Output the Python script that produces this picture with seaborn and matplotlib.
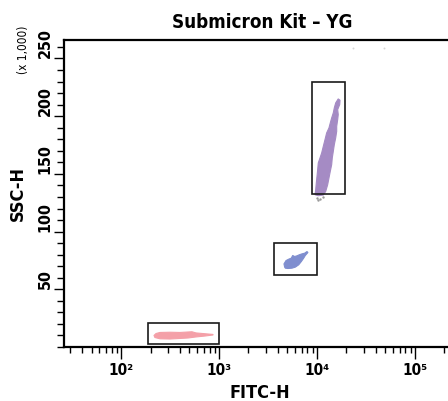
import numpy as np
import pandas as pd
import matplotlib
matplotlib.use("Agg")
import matplotlib.pyplot as plt
from matplotlib.patches import Rectangle
from matplotlib.ticker import FixedLocator, MultipleLocator, NullFormatter
import seaborn as sns

# ---------------- data ----------------
title = "Submicron Kit – YG"
x_label = "FITC-H"
y_label = "SSC-H"
y_unit = "(x 1,000)"

x_ticks = [1e2, 1e3, 1e4, 1e5]
x_tick_labels = ["10²", "10³", "10⁴", "10⁵"]
y_ticks = [50, 100, 150, 200, 250]
y_tick_labels = ["50", "100", "150", "200", "250"]

# population outlines (FITC-H, SSC-H x1000)
pink_x = [217, 228, 250, 316, 400, 483, 530, 582, 719, 869,
          869, 719, 582, 483, 400, 316, 250, 222]
pink_y = [10.0, 11.7, 12.6, 12.8, 12.6, 13.0, 13.2, 12.2, 11.5, 10.9,
          10.4, 9.5, 8.7, 7.8, 7.4, 6.9, 7.1, 8.2]

blue_x = [4677, 4603, 4830, 5143, 5466, 5650, 5918, 6247, 6596, 7025, 7484,
          7901, 8088, 7600, 7317, 6915, 6506, 6012, 5559, 5057, 4755]
blue_y = [69.2, 72.0, 74.9, 76.1, 77.0, 79.3, 78.4, 79.0, 79.9, 80.7, 81.3,
          82.7, 81.9, 79.3, 77.0, 74.0, 71.2, 69.2, 68.3, 68.0, 68.3]

purple_x = [16480, 15520, 15020, 14670, 14120, 13670, 13250, 12550, 12070,
            11600, 11160, 10730, 10310, 10160, 10000, 9840, 9700, 9550,
            10310, 11600, 12270, 12850, 13250, 13670, 14120, 14320, 14670,
            15020, 15520, 15890, 15890, 16260, 16480, 16260, 17060, 17180]
purple_y = [215.0, 211.5, 207.2, 202.9, 198.5, 194.2, 189.8, 185.5, 179.7,
            173.9, 168.1, 163.8, 159.5, 153.6, 147.8, 142.1, 136.3, 131.9,
            131.1, 131.7, 134.8, 140.6, 146.4, 152.2, 158.0, 163.8, 169.5,
            175.3, 181.2, 186.9, 191.2, 197.0, 201.4, 205.7, 210.1, 213.8]

# stray events
stray_x = [9900, 10700, 11500, 10300]
stray_y = [129.5, 128.3, 129.8, 127.6]
faint_x = [23440, 48640]
faint_y = [259.3, 259.3]

# gates
gate_x0 = [190, 3614, 8900]
gate_x1 = [1000, 10000, 19500]
gate_y0 = [2.6, 62.5, 133.0]
gate_y1 = [21.1, 90.5, 229.4]

pop_colors = ["#F4A0A8", "#7F8ECF", "#A58BC4"]

# ---------------- figure ----------------
sns.set_style("ticks")
plt.rcParams["font.family"] = ["DejaVu Sans"]
for k in ["text.color", "axes.labelcolor", "xtick.color", "ytick.color"]:
    plt.rcParams[k] = "black"

fig = plt.figure(figsize=(4.48, 4.01), dpi=100)
ax = fig.add_axes([64 / 448, 54 / 401, 392 / 448, 307 / 401])

ax.set_xscale("log")
ax.set_xlim(26.2, 262144)
ax.set_ylim(0, 266)

outlines = [(pink_x, pink_y), (blue_x, blue_y), (purple_x, purple_y)]
for (px, py), c in zip(outlines, pop_colors):
    ax.fill(px, py, color=c, lw=0.8, ec=c, zorder=2)

stray = pd.DataFrame({"x": stray_x, "y": stray_y})
sns.scatterplot(data=stray, x="x", y="y", ax=ax, color="#9a9a9a", s=3,
                linewidth=0, zorder=3)
faint = pd.DataFrame({"x": faint_x, "y": faint_y})
sns.scatterplot(data=faint, x="x", y="y", ax=ax, color="#d6d6d6", s=2,
                linewidth=0, zorder=3)

for x0, x1, y0, y1 in zip(gate_x0, gate_x1, gate_y0, gate_y1):
    ax.add_patch(Rectangle((x0, y0), x1 - x0, y1 - y0, fill=False,
                           ec="#1a1a1a", lw=1.2, zorder=4))

# spines
for s in ["left", "bottom", "top"]:
    ax.spines[s].set_linewidth(1.6)
    ax.spines[s].set_color("black")
ax.spines["right"].set_visible(False)

bold = dict(family="DejaVu Sans", weight="bold", stretch="condensed")

# x ticks
ax.set_xticks(x_ticks)
minor = [m * 10 ** e for e in range(1, 6) for m in range(2, 10)]
ax.xaxis.set_minor_locator(FixedLocator(minor))
ax.xaxis.set_minor_formatter(NullFormatter())
ax.set_xticklabels(x_tick_labels, fontdict=dict(size=11, **bold))
ax.tick_params(axis="x", which="major", direction="out", length=8.5, width=1.0, pad=3)
ax.tick_params(axis="x", which="minor", direction="out", length=4.3, width=1.0)

# y ticks
ax.set_yticks(y_ticks)
ax.set_yticklabels(y_tick_labels, fontdict=dict(size=11.5, **bold),
                   rotation=90, va="bottom")
ax.yaxis.set_minor_locator(MultipleLocator(10))
ax.tick_params(axis="y", which="major", direction="out", length=7.2, width=1.0, pad=1)
ax.tick_params(axis="y", which="minor", direction="out", length=5, width=1.0)
ax.tick_params(top=False, right=False, which="both")

ax.set_xlabel(x_label, fontdict=dict(size=13, **bold), labelpad=4)
ax.set_ylabel(y_label, fontdict=dict(size=13, **bold))
ax.yaxis.set_label_coords(-0.094, 0.5)

fig.text(262 / 448, 1 - 23 / 401, title, ha="center", va="center",
         fontsize=13.5, **bold)
fig.text(23 / 448, 1 - 50 / 401, y_unit, ha="center", va="center",
         rotation=90, fontsize=8.5, family="DejaVu Sans", stretch="condensed")

ax.grid(False)
fig.savefig("out.png", dpi=100)
